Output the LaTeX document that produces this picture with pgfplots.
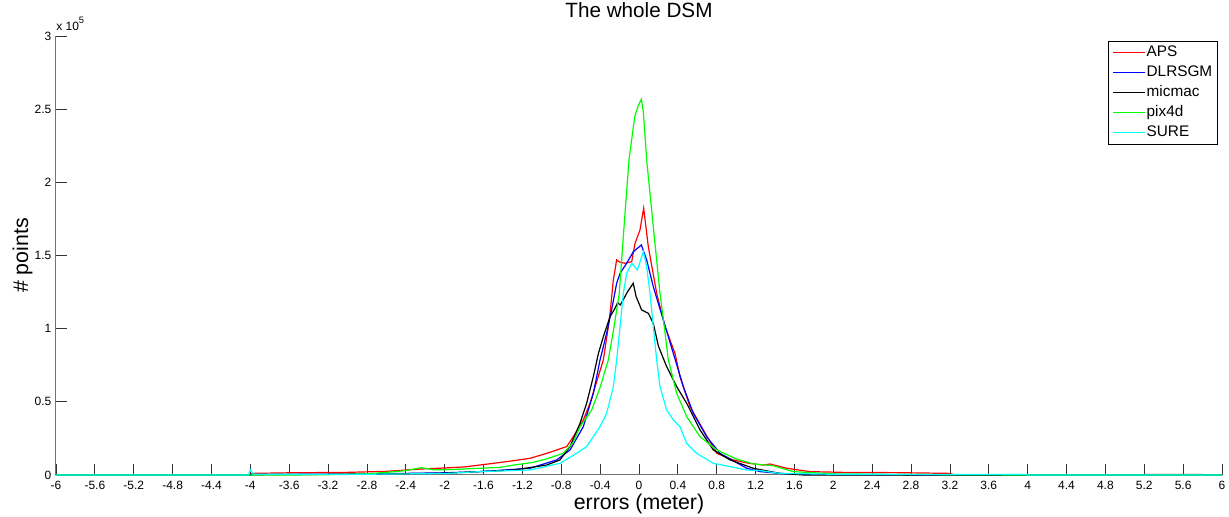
\documentclass[border=0pt]{standalone}
\usepackage{fontspec}
\setmainfont{Liberation Sans}
\usepackage{pgfplots}
\pgfplotsset{compat=1.18}
\definecolor{mred}{rgb}{1,0,0}
\definecolor{mblue}{rgb}{0,0,1}
\definecolor{mgreen}{rgb}{0,1,0}
\definecolor{mcyan}{rgb}{0,1,1}

\begin{document}
\begin{tikzpicture}
\useasboundingbox (0,0) rectangle (921.75pt,387.75pt);
\begin{axis}[
  at={(42pt,31.5pt)}, anchor=south west,
  scale only axis, width=874.5pt, height=329.25pt,
  xmin=-6, xmax=6, ymin=0, ymax=300000,
  axis lines=left,
  axis line style={-, draw=black!55, line width=0.75pt},
  tick align=inside,
  major tick length=8pt,
  tick style={black!80, line width=0.6pt},
  xtick={-6,-5.6,-5.2,-4.8,-4.4,-4,-3.6,-3.2,-2.8,-2.4,-2,-1.6,-1.2,-0.8,-0.4,0,0.4,0.8,1.2,1.6,2,2.4,2.8,3.2,3.6,4,4.4,4.8,5.2,5.6,6},
  xticklabels={-6,-5.6,-5.2,-4.8,-4.4,-4,-3.6,-3.2,-2.8,-2.4,-2,-1.6,-1.2,-0.8,-0.4,0,0.4,0.8,1.2,1.6,2,2.4,2.8,3.2,3.6,4,4.4,4.8,5.2,5.6,6},
  ytick={0,50000,100000,150000,200000,250000,300000},
  yticklabels={0,0.5,1,1.5,2,2.5,3},
  scaled y ticks=false,
  ticklabel style={font=\fontsize{9}{10}\selectfont},
  xticklabel style={anchor=base, yshift=-11.25pt},
  title={The whole DSM},
  title style={font=\fontsize{15.5}{18}\selectfont, at={(0.5,1)}, anchor=base, yshift=7.5pt},
  xlabel={errors (meter)},
  xlabel style={font=\fontsize{16}{18}\selectfont, at={(0.5,0)}, anchor=base, yshift=-26.25pt},
  ylabel={\# points},
  ylabel style={font=\fontsize{16}{18}\selectfont, at={(-0.024,0.5)}, anchor=base},
  legend style={at={(1,1)}, anchor=north east, xshift=-3pt, yshift=-3.75pt,
    draw=black, line width=0.6pt, inner xsep=3pt, inner ysep=1pt,
    font=\fontsize{11.5}{13}\selectfont,
    nodes={inner ysep=2pt, inner xsep=1pt, text height=8.5pt, text depth=2.5pt},
    row sep=0pt},
  legend cell align=left,
  legend image code/.code={\draw[#1, line width=0.8pt] (0pt,0pt) -- (24pt,0pt);},
  every axis plot/.append style={line width=0.9pt},
  clip=false,
]
% APS
\addplot[mred] coordinates {
(-6,0) (-4.01,0) (-3.98,1100) (-3.6,1500) (-3.0,1800) (-2.6,2500) (-2.24,4100)
(-2.0,4800) (-1.8,5500) (-1.64,6800) (-1.365,9100) (-1.122,11400) (-0.95,14800)
(-0.847,17100) (-0.744,19400) (-0.676,26200) (-0.573,37600) (-0.504,49000)
(-0.367,78600) (-0.316,101400) (-0.298,110500) (-0.264,133300) (-0.23,147000)
(-0.2,145500) (-0.144,144700) (-0.075,145800) (-0.041,158300) (0.010,167400)
(0.048,182300) (0.096,156000) (0.182,124200) (0.268,101400) (0.37,83200)
(0.422,67200) (0.525,46700) (0.662,30800) (0.80,14800) (0.97,10300) (1.13,8000)
(1.28,6800) (1.35,7500) (1.52,4600) (1.76,2300) (2.1,1800) (2.67,1600) (3.2,1100)
(3.25,0) (5.1,0) (5.2,300) (5.8,300) (5.85,0) (6,0)
};
% DLRSGM
\addplot[mblue] coordinates {
(-6,0) (-4.01,0) (-3.98,300) (-3.0,600) (-2.5,1000) (-2.0,1500) (-1.64,2300)
(-1.122,4600) (-0.847,10300) (-0.71,17100) (-0.573,33000) (-0.47,55800)
(-0.401,78600) (-0.333,96800) (-0.282,112800) (-0.230,131000) (-0.195,137800)
(-0.127,144700) (-0.058,152600) (0.024,157200) (0.079,147000) (0.147,128700)
(0.25,106000) (0.353,83200) (0.456,60400) (0.559,42100) (0.696,26200)
(0.834,14800) (1.108,4600) (1.25,2300) (1.45,1100) (1.7,300) (3.0,0) (6,0)
};
% micmac
\addplot[black] coordinates {
(-6,0) (-4.01,0) (-3.98,200) (-3.0,500) (-2.0,1200) (-1.64,2300) (-1.29,3400)
(-0.95,6800) (-0.813,10300) (-0.71,19400) (-0.607,35300) (-0.539,49000)
(-0.47,67200) (-0.418,83000) (-0.367,94500) (-0.298,108200) (-0.247,113900)
(-0.22,117700) (-0.192,116200) (-0.16,120000) (-0.12,125000) (-0.059,131000)
(-0.03,122000) (0.027,112800) (0.096,110500) (0.147,103700) (0.2,88000)
(0.285,74000) (0.388,60400) (0.491,49000) (0.628,30800) (0.765,17100)
(0.937,10300) (1.176,4600) (1.45,1100) (1.7,0) (6,0)
};
% pix4d
\addplot[mgreen] coordinates {
(-6,0) (-4,0) (-3.6,0) (-3.2,200) (-2.8,800) (-2.6,1800) (-2.4,3000) (-2.24,5000)
(-2.1,3500) (-1.9,3800) (-1.64,4600) (-1.43,5200) (-1.29,6800) (-1.1,8500)
(-0.95,11000) (-0.78,14800) (-0.68,22000) (-0.607,33000) (-0.487,44400)
(-0.40,60000) (-0.316,78600) (-0.26,100000) (-0.203,124200) (-0.154,169700)
(-0.103,215300) (-0.044,244900) (-0.01,252000) (0.024,256800) (0.045,248000)
(0.079,215300) (0.147,169700) (0.216,124200) (0.26,101400) (0.302,78600)
(0.388,55800) (0.491,39900) (0.628,26200) (0.8,17100) (1.0,11000) (1.18,7500)
(1.38,6400) (1.5,4000) (1.59,2300) (2.0,800) (2.6,400) (3.2,200) (4.0,0) (6,0)
};
% SURE
\addplot[mcyan] coordinates {
(-6,0) (-4.02,0) (-4.0,3500) (-3.97,500) (-3.0,400) (-2.0,1000) (-1.64,2300)
(-1.122,3400) (-0.813,8000) (-0.642,14800) (-0.539,19400) (-0.47,26200)
(-0.401,33000) (-0.333,42100) (-0.264,60400) (-0.23,78600) (-0.195,101400)
(-0.161,124200) (-0.127,137800) (-0.075,144700) (-0.017,140100) (0.045,152600)
(0.079,142400) (0.113,124200) (0.147,101400) (0.182,78600) (0.216,60400)
(0.285,44400) (0.353,37600) (0.422,33000) (0.491,21600) (0.593,14800)
(0.765,8000) (1.108,3400) (1.245,3000) (1.45,1100) (2.0,500) (3.99,300)
(4.0,0) (6,0)
};
\legend{APS,DLRSGM,micmac,pix4d,SURE}
\node[anchor=base west, font=\fontsize{9}{10}\selectfont, inner sep=0pt]
  at ([yshift=4pt]rel axis cs:0,1) {x 10\raisebox{5.5pt}{\fontsize{7}{8}\selectfont 5}};
\end{axis}
\end{tikzpicture}
\end{document}
